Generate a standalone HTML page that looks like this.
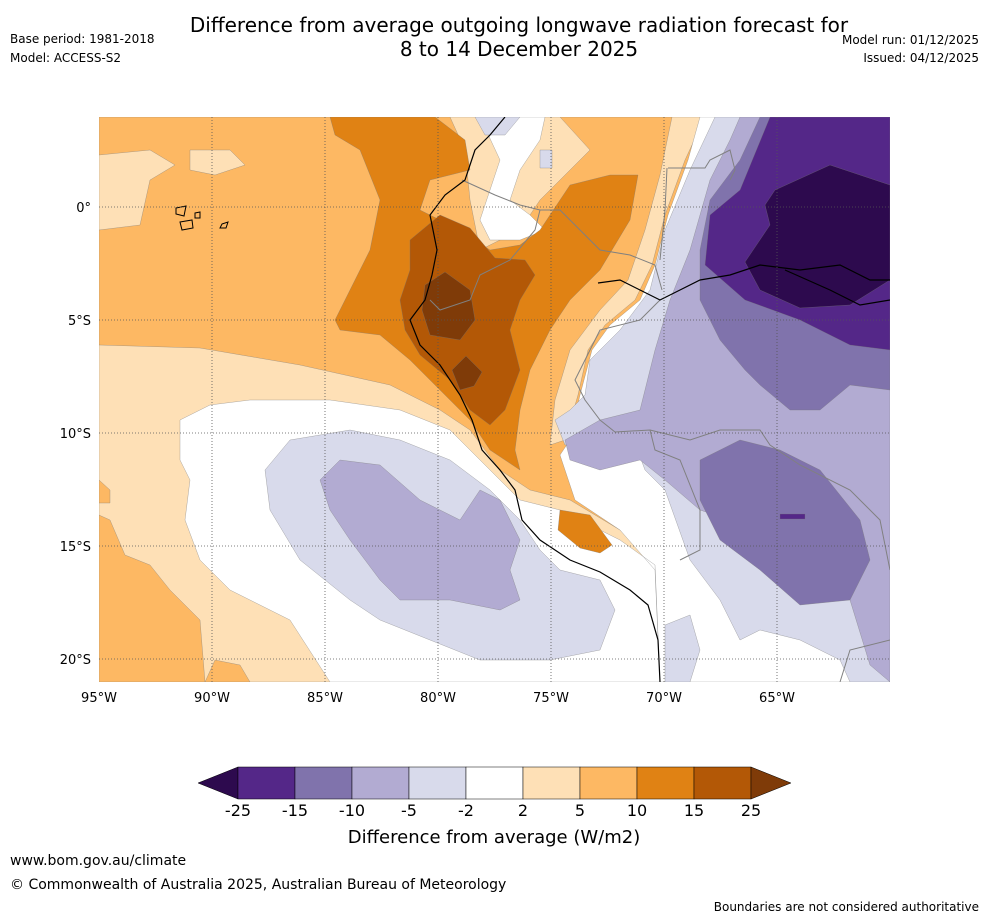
<!DOCTYPE html>
<html><head><meta charset="utf-8"><style>
body{margin:0;background:#fff;width:988px;height:919px;overflow:hidden;font-family:"DejaVu Sans",sans-serif;}
</style></head><body>
<svg width="988" height="919" xmlns="http://www.w3.org/2000/svg" font-family="DejaVu Sans, sans-serif">
<text x="519" y="32" font-size="20" text-anchor="middle">Difference from average outgoing longwave radiation forecast for</text>
<text x="519" y="56" font-size="20" text-anchor="middle">8 to 14 December 2025</text>
<text x="10" y="43" font-size="12">Base period: 1981-2018</text>
<text x="10" y="62" font-size="12">Model: ACCESS-S2</text>
<text x="979" y="44" font-size="12" text-anchor="end">Model run: 01/12/2025</text>
<text x="979" y="62" font-size="12" text-anchor="end">Issued: 04/12/2025</text>
<defs><clipPath id="mc"><rect x="99" y="117" width="791" height="565"/></clipPath></defs>
<g clip-path="url(#mc)" stroke="#777" stroke-width="0.3">
<rect x="99" y="117" width="791" height="565" fill="#fdb863"/>
<path fill="#fee0b6" d="M99,345 L200,348 L300,365 L390,385 L440,410 L470,430 L500,470 L530,490 L570,500 L620,530 L655,560 L660,682 L99,682Z M99,155 L150,150 L175,165 L150,180 L140,225 L99,230Z M190,150 L230,150 L245,165 L215,175 L190,170Z M450,117 L560,117 L590,150 L560,180 L540,200 L520,230 L480,250 L470,200 L465,150Z M672,117 L705,117 L685,160 L665,215 L652,265 L635,300 L605,325 L588,350 L578,395 L565,440 L550,445 L555,400 L570,350 L600,310 L628,280 L645,230 L660,175Z"/>
<path fill="#fdb863" d="M99,515 L110,520 L125,555 L150,565 L170,590 L200,620 L205,682 L99,682Z M99,480 L110,490 L110,503 L99,503Z M205,682 L215,660 L240,665 L250,682Z"/>
<path fill="#fff" d="M180,420 L210,405 L250,400 L330,400 L400,410 L450,430 L490,470 L520,500 L560,510 L620,540 L655,565 L660,682 L330,682 L290,620 L250,600 L230,590 L200,560 L185,520 L190,480 L180,460Z M700,117 L890,117 L890,682 L660,682 L655,570 L620,530 L575,500 L560,455 L570,440 L580,395 L592,350 L610,325 L640,300 L655,265 L668,215 L688,160Z M480,117 L545,117 L540,140 L520,170 L510,200 L530,215 L545,230 L520,240 L490,240 L480,220 L490,190 L500,160Z"/>
<path fill="#d8daeb" d="M715,117 L890,117 L890,682 L850,682 L840,660 L800,640 L760,630 L740,640 L720,600 L690,560 L665,490 L645,470 L630,430 L600,440 L565,445 L555,420 L570,410 L585,395 L590,360 L620,330 L650,290 L665,230 L690,170Z M265,470 L290,440 L350,430 L400,440 L450,460 L490,490 L520,520 L540,550 L560,570 L600,580 L615,610 L600,650 L550,660 L480,660 L430,640 L380,620 L350,600 L300,560 L270,510Z M475,117 L520,117 L505,135 L485,135Z M540,150 L552,150 L552,168 L540,168Z M665,625 L690,615 L700,650 L690,682 L665,682Z"/>
<path fill="#b2abd2" d="M740,117 L890,117 L890,682 L870,665 L850,600 L800,560 L760,530 L700,510 L665,480 L640,460 L600,470 L570,460 L565,440 L600,420 L640,410 L655,350 L670,300 L690,250 L710,180 L730,140Z M320,480 L340,460 L380,465 L420,500 L460,520 L480,490 L500,500 L520,540 L510,570 L520,600 L500,610 L450,600 L400,600 L380,580 L350,540 L330,510Z"/>
<path fill="#8073ac" d="M760,117 L890,117 L890,390 L850,385 L820,410 L790,410 L760,385 L745,370 L720,340 L700,300 L700,250 L710,200 L740,160Z M700,460 L740,440 L780,450 L820,470 L860,520 L870,560 L850,600 L800,605 L760,570 L720,540 L700,500Z"/>
<path fill="#542788" d="M770,117 L890,117 L890,350 L850,345 L800,320 L745,300 L705,265 L710,215 L740,190Z M780,514 L805,514 L805,519 L780,519Z"/>
<path fill="#2d0a4e" d="M775,190 L830,165 L890,185 L890,280 L850,305 L800,308 L760,290 L745,262 L770,225 L765,205Z"/>
<path fill="#e08214" d="M330,117 L435,117 L465,140 L470,170 L430,180 L420,210 L460,230 L490,250 L520,245 L540,230 L570,185 L610,175 L638,175 L630,220 L600,270 L570,300 L550,330 L530,370 L520,410 L515,450 L520,470 L490,450 L470,420 L440,390 L410,360 L380,335 L340,330 L335,320 L350,290 L370,250 L380,200 L360,150 L335,135Z M560,510 L590,515 L612,545 L600,553 L580,548 L558,530Z"/>
<path fill="#b35806" d="M410,240 L440,215 L470,228 L495,258 L525,260 L535,275 L520,300 L510,330 L520,370 L505,410 L490,425 L470,410 L450,380 L420,355 L405,330 L400,300 L410,270Z"/>
<path fill="#7f3b08" d="M425,285 L445,272 L470,290 L475,320 L460,340 L430,335 L422,310Z M452,370 L466,356 L482,372 L474,386 L460,390Z"/>
<g fill="none">
<path stroke="#808080" stroke-width="1" d="M462,180 L495,195 L520,205 L540,210 L560,210 L580,230 L600,250 L630,255 L655,265 L662,290 M540,210 L535,230 L510,260 L480,275 L470,300 L440,310 L430,300 M668,168 L705,168 L710,160 L730,150 L735,170 L730,180 M667,168 L665,210 L660,260 M660,300 L640,320 L600,330 L590,350 L575,380 L585,400 L600,420 L615,432 L650,430 L655,450 L680,460 L700,510 L700,550 L680,560 M650,430 L690,440 L720,430 L760,430 L770,445 L800,465 L850,490 L880,520 L890,570 M840,682 L850,650 L890,640"/>
<path stroke="#000" stroke-width="1.2" d="M505,117 L490,135 L475,150 L465,180 L445,195 L430,215 L437,250 L432,275 L425,300 L410,320 L420,345 L440,365 L460,395 L472,420 L482,450 L500,470 L515,490 L522,520 L540,540 L570,560 L600,572 L630,590 L648,605 L658,640 L660,682 M598,283 L620,280 L640,290 L660,300 L680,290 L700,280 L730,275 L760,265 L800,270 L840,265 L870,280 L890,280 M785,270 L830,290 L860,305 L890,300"/>
<path stroke="#000" stroke-width="1" d="M176,208 L186,206 L184,216 L176,214Z M180,222 L192,220 L193,228 L182,230Z M195,213 L200,212 L200,218 L195,218Z M222,224 L228,222 L226,228 L220,228Z"/>
</g>
</g>
<g id="grid"></g>
<g id="axes"></g>
<g id="cbar"></g>
<text x="494" y="843" font-size="18" text-anchor="middle">Difference from average (W/m2)</text>
<text x="10" y="865" font-size="14">www.bom.gov.au/climate</text>
<text x="10" y="889" font-size="14">© Commonwealth of Australia 2025, Australian Bureau of Meteorology</text>
<text x="979" y="911" font-size="12" text-anchor="end">Boundaries are not considered authoritative</text>
<script>
const lonTicks=[-95,-90,-85,-80,-75,-70,-65];
const latTicks=[0,-5,-10,-15,-20];
const cbarLevels=[-25,-15,-10,-5,-2,2,5,10,15,25];
const cbarColors=["#542788","#8073ac","#b2abd2","#d8daeb","#ffffff","#fee0b6","#fdb863","#e08214","#b35806"];
const cbarLow="#2d0a4e", cbarHigh="#7f3b08";
const NS="http://www.w3.org/2000/svg";
const px=lon=>99+(lon+95)*22.6;
const py=lat=>207-lat*22.6;
function mk(t,a,p){const e=document.createElementNS(NS,t);for(const k in a)e.setAttribute(k,a[k]);p.appendChild(e);return e;}
const g=document.getElementById('grid'),ax=document.getElementById('axes'),cb=document.getElementById('cbar');
lonTicks.forEach(l=>{
  if(l>-95){const ln=mk('line',{x1:px(l),x2:px(l),y1:117,y2:682,stroke:'#555','stroke-width':0.8,'stroke-dasharray':'1,2'},g);
  
  }
  const t=mk('text',{x:px(l),y:702,'font-size':13,'text-anchor':'middle'},ax);t.textContent=Math.abs(l)+'°W';
  
  
});
latTicks.forEach(l=>{
  const ln=mk('line',{x1:99,x2:890,y1:py(l),y2:py(l),stroke:'#555','stroke-width':0.8,'stroke-dasharray':'1,2'},g);
  
  
  const t=mk('text',{x:91,y:py(l)+5,'font-size':13,'text-anchor':'end'},ax);t.textContent=l==0?'0°':Math.abs(l)+'°S';
  
  
});
const x0=238,w=57,y0=767,h=32;
const tl=mk('path',{d:`M${x0},${y0} L198,${y0+h/2} L${x0},${y0+h}Z`,fill:cbarLow,stroke:'#000','stroke-width':0.5},cb);


cbarColors.forEach((c,i)=>{
  const r=mk('rect',{x:x0+i*w,y:y0,width:w,height:h,fill:c,stroke:'#000','stroke-width':0.5},cb);
  
  
});
const xe=x0+cbarColors.length*w;
const tr=mk('path',{d:`M${xe},${y0} L${xe+40},${y0+h/2} L${xe},${y0+h}Z`,fill:cbarHigh,stroke:'#000','stroke-width':0.5},cb);


cbarLevels.forEach((v,i)=>{
  const t=mk('text',{x:x0+i*w,y:816,'font-size':16,'text-anchor':'middle'},cb);t.textContent=v;
  
  
});
</script>
</svg>
</body></html>
